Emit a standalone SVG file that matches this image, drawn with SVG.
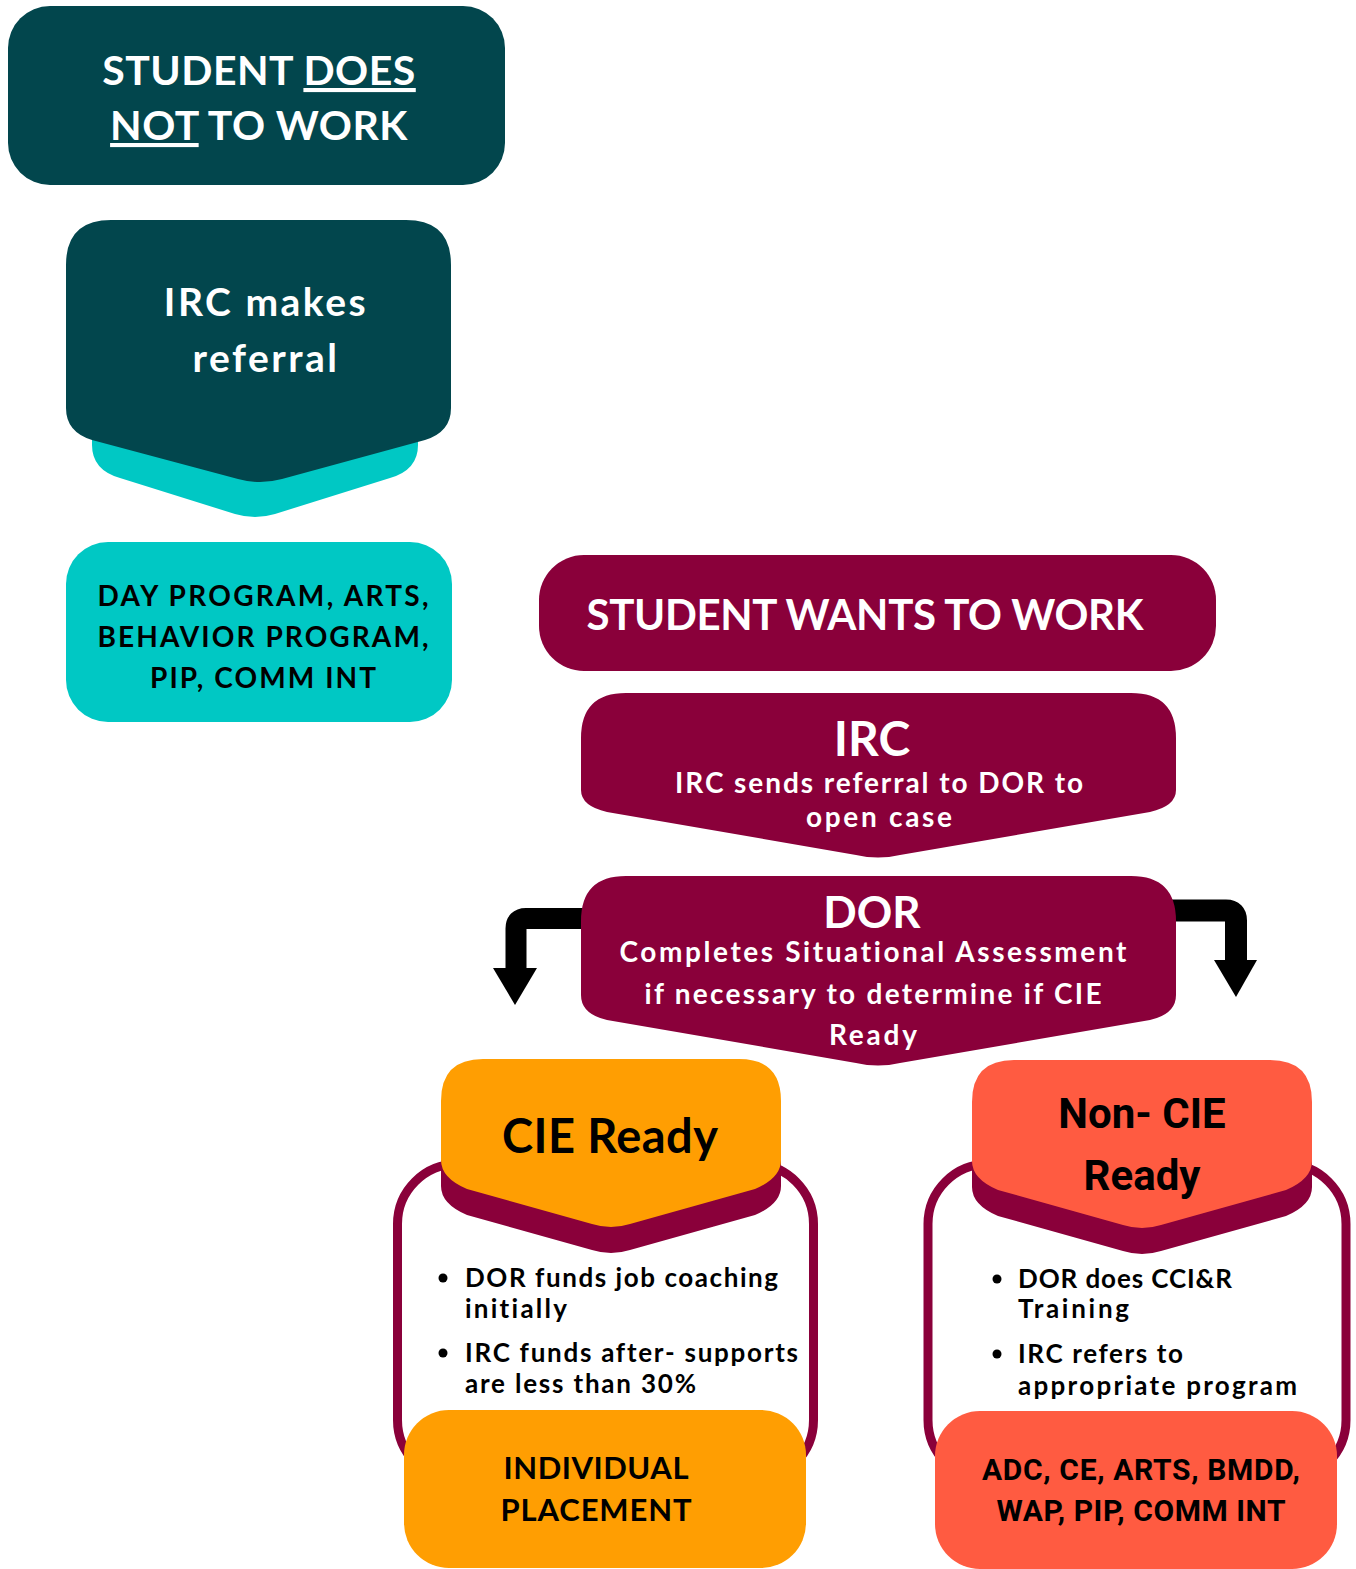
<svg xmlns="http://www.w3.org/2000/svg" width="1356" height="1569" viewBox="0 0 1356 1569">
<style>
.w{fill:#ffffff}
.k{fill:#000000}
.ss{font-family:Lato,"Open Sans","Liberation Sans",sans-serif;font-weight:700;font-variant-ligatures:none}
.rb{font-family:Roboto,"Liberation Sans",sans-serif;font-weight:700;font-variant-ligatures:none}
.teal{fill:#02464D}
.cyan{fill:#00C8C4}
.mar{fill:#8A003A}
.org{fill:#FF9E02}
.cor{fill:#FF5B41}
.frame{fill:#ffffff;stroke:#8A003A;stroke-width:9}
</style>
<rect width="1356" height="1569" fill="#ffffff"/>

<g id="connectors">
  <path d="M585 918.5 H526 Q516 918.5 516 928.5 V970" fill="none" stroke="#000" stroke-width="21"/>
  <polygon points="493,968 537,968 515,1005"/>
  <path d="M1172 910.5 H1226 Q1236 910.5 1236 920.5 V962" fill="none" stroke="#000" stroke-width="22"/>
  <polygon points="1214,960 1257,960 1236,997"/>
</g>

<g id="not-work">
  <rect x="8" y="6" width="497" height="179" rx="42" class="teal"/>
  <text class="ss w" font-size="41" text-anchor="middle" letter-spacing="0.5"><tspan x="259" y="85">STUDENT <tspan text-decoration="underline">DOES</tspan></tspan><tspan x="259" y="140"><tspan text-decoration="underline">NOT</tspan> TO WORK</tspan></text>
</g>

<g id="irc-referral">
  <path class="cyan" d="M92 415 L92 445 Q92 470 120 478 L235 514 Q255 520 275 514 L390 478 Q418 470 418 445 L418 415 Z"/>
  <path class="teal" d="M66 265 Q66 220 111 220 L406 220 Q451 220 451 265 L451 408 Q451 432 425 440 L282 479 Q260 485 238 479 L92 440 Q66 432 66 408 Z"/>
  <text class="ss w" font-size="39" text-anchor="middle" letter-spacing="2.5"><tspan x="266" y="316">IRC makes</tspan><tspan x="266" y="372">referral</tspan></text>
</g>

<g id="day-program">
  <rect x="66" y="542" width="386" height="180" rx="42" class="cyan"/>
  <text class="ss k" font-size="28" text-anchor="middle"><tspan x="263" y="606" textLength="331" lengthAdjust="spacing">DAY PROGRAM, ARTS,</tspan><tspan x="263" y="647" textLength="331" lengthAdjust="spacing">BEHAVIOR PROGRAM,</tspan><tspan x="263" y="688" textLength="226" lengthAdjust="spacing">PIP, COMM INT</tspan></text>
</g>

<g id="wants-work">
  <rect x="539" y="555" width="677" height="116" rx="45" class="mar"/>
  <text class="ss w" x="865" y="630" font-size="42" text-anchor="middle" textLength="557" lengthAdjust="spacing">STUDENT WANTS TO WORK</text>
</g>

<g id="irc">
  <path class="mar" d="M581 738 Q581 693 626 693 L1131 693 Q1176 693 1176 738 L1176 790 Q1176 806 1150 812 L900 855 Q878 860 856 855 L607 812 Q581 806 581 790 Z"/>
  <text class="ss w" x="872" y="756" font-size="48" text-anchor="middle">IRC</text>
  <text class="ss w" font-size="28" text-anchor="middle" font-weight="600"><tspan x="879" y="793" textLength="408" lengthAdjust="spacing">IRC sends referral to DOR to</tspan><tspan x="879" y="827" textLength="146" lengthAdjust="spacing">open case</tspan></text>
</g>

<g id="dor">
  <path class="mar" d="M581 921 Q581 876 626 876 L1131 876 Q1176 876 1176 921 L1176 995 Q1176 1014 1150 1020 L900 1063 Q878 1068 856 1063 L607 1020 Q581 1014 581 995 Z"/>
  <text class="ss w" x="872" y="928" font-size="44" text-anchor="middle">DOR</text>
  <text class="ss w" font-size="28" text-anchor="middle"><tspan x="873" y="962" textLength="507" lengthAdjust="spacing">Completes Situational Assessment</tspan><tspan x="873" y="1004" textLength="457" lengthAdjust="spacing">if necessary to determine if CIE</tspan><tspan x="873" y="1045" textLength="88" lengthAdjust="spacing">Ready</tspan></text>
</g>

<g id="cie-ready">
  <rect x="397.5" y="1164" width="416" height="316" rx="60" class="frame"/>
  <path class="mar" d="M441 1140 L441 1186 Q441 1204 467 1215 L592 1250 Q611 1256 630 1250 L755 1215 Q781 1204 781 1186 L781 1140 Z"/>
  <path class="org" d="M441 1101 Q441 1059 483 1059 L739 1059 Q781 1059 781 1101 L781 1160 Q781 1178 755 1189 L630 1224 Q611 1230 592 1224 L467 1189 Q441 1178 441 1160 Z"/>
  <text class="ss k" x="610" y="1153" font-size="47" text-anchor="middle" textLength="216" lengthAdjust="spacing">CIE Ready</text>
  <circle cx="443" cy="1278" r="4.5"/>
  <circle cx="443" cy="1353" r="4.5"/>
  <text class="ss k" font-size="26"><tspan x="465" y="1287" textLength="313" lengthAdjust="spacing">DOR funds job coaching</tspan><tspan x="465" y="1318" textLength="102" lengthAdjust="spacing">initially</tspan><tspan x="465" y="1362" textLength="333" lengthAdjust="spacing">IRC funds after- supports</tspan><tspan x="465" y="1393" textLength="231" lengthAdjust="spacing">are less than 30%</tspan></text>
</g>

<g id="individual-placement">
  <rect x="404" y="1410" width="402" height="158" rx="45" class="org"/>
  <text class="ss k" font-size="31" text-anchor="middle"><tspan x="596" y="1479" textLength="185" lengthAdjust="spacing">INDIVIDUAL</tspan><tspan x="596" y="1521" textLength="191" lengthAdjust="spacing">PLACEMENT</tspan></text>
</g>

<g id="non-cie-ready">
  <rect x="928" y="1164" width="418" height="316" rx="60" class="frame"/>
  <path class="mar" transform="translate(531,1)" d="M441 1140 L441 1186 Q441 1204 467 1215 L592 1250 Q611 1256 630 1250 L755 1215 Q781 1204 781 1186 L781 1140 Z"/>
  <path class="cor" transform="translate(531,1)" d="M441 1101 Q441 1059 483 1059 L739 1059 Q781 1059 781 1101 L781 1160 Q781 1178 755 1189 L630 1224 Q611 1230 592 1224 L467 1189 Q441 1178 441 1160 Z"/>
  <text class="rb k" font-size="42" font-weight="500" text-anchor="middle"><tspan x="1142" y="1128">Non- CIE</tspan><tspan x="1142" y="1190">Ready</tspan></text>
  <circle cx="997" cy="1279" r="4.5"/>
  <circle cx="997" cy="1354" r="4.5"/>
  <text class="ss k" font-size="26"><tspan x="1018" y="1288" textLength="214" lengthAdjust="spacing">DOR does CCI&amp;R</tspan><tspan x="1018" y="1318" textLength="111" lengthAdjust="spacing">Training</tspan><tspan x="1018" y="1363" textLength="165" lengthAdjust="spacing">IRC refers to</tspan><tspan x="1018" y="1395" textLength="279" lengthAdjust="spacing">appropriate program</tspan></text>
</g>

<g id="adc-programs">
  <rect x="935" y="1411" width="402" height="158" rx="45" class="cor"/>
  <text class="rb k" font-size="30" text-anchor="middle"><tspan x="1141" y="1480" textLength="318" lengthAdjust="spacing">ADC, CE, ARTS, BMDD,</tspan><tspan x="1141" y="1521" textLength="289" lengthAdjust="spacing">WAP, PIP, COMM INT</tspan></text>
</g>
</svg>
